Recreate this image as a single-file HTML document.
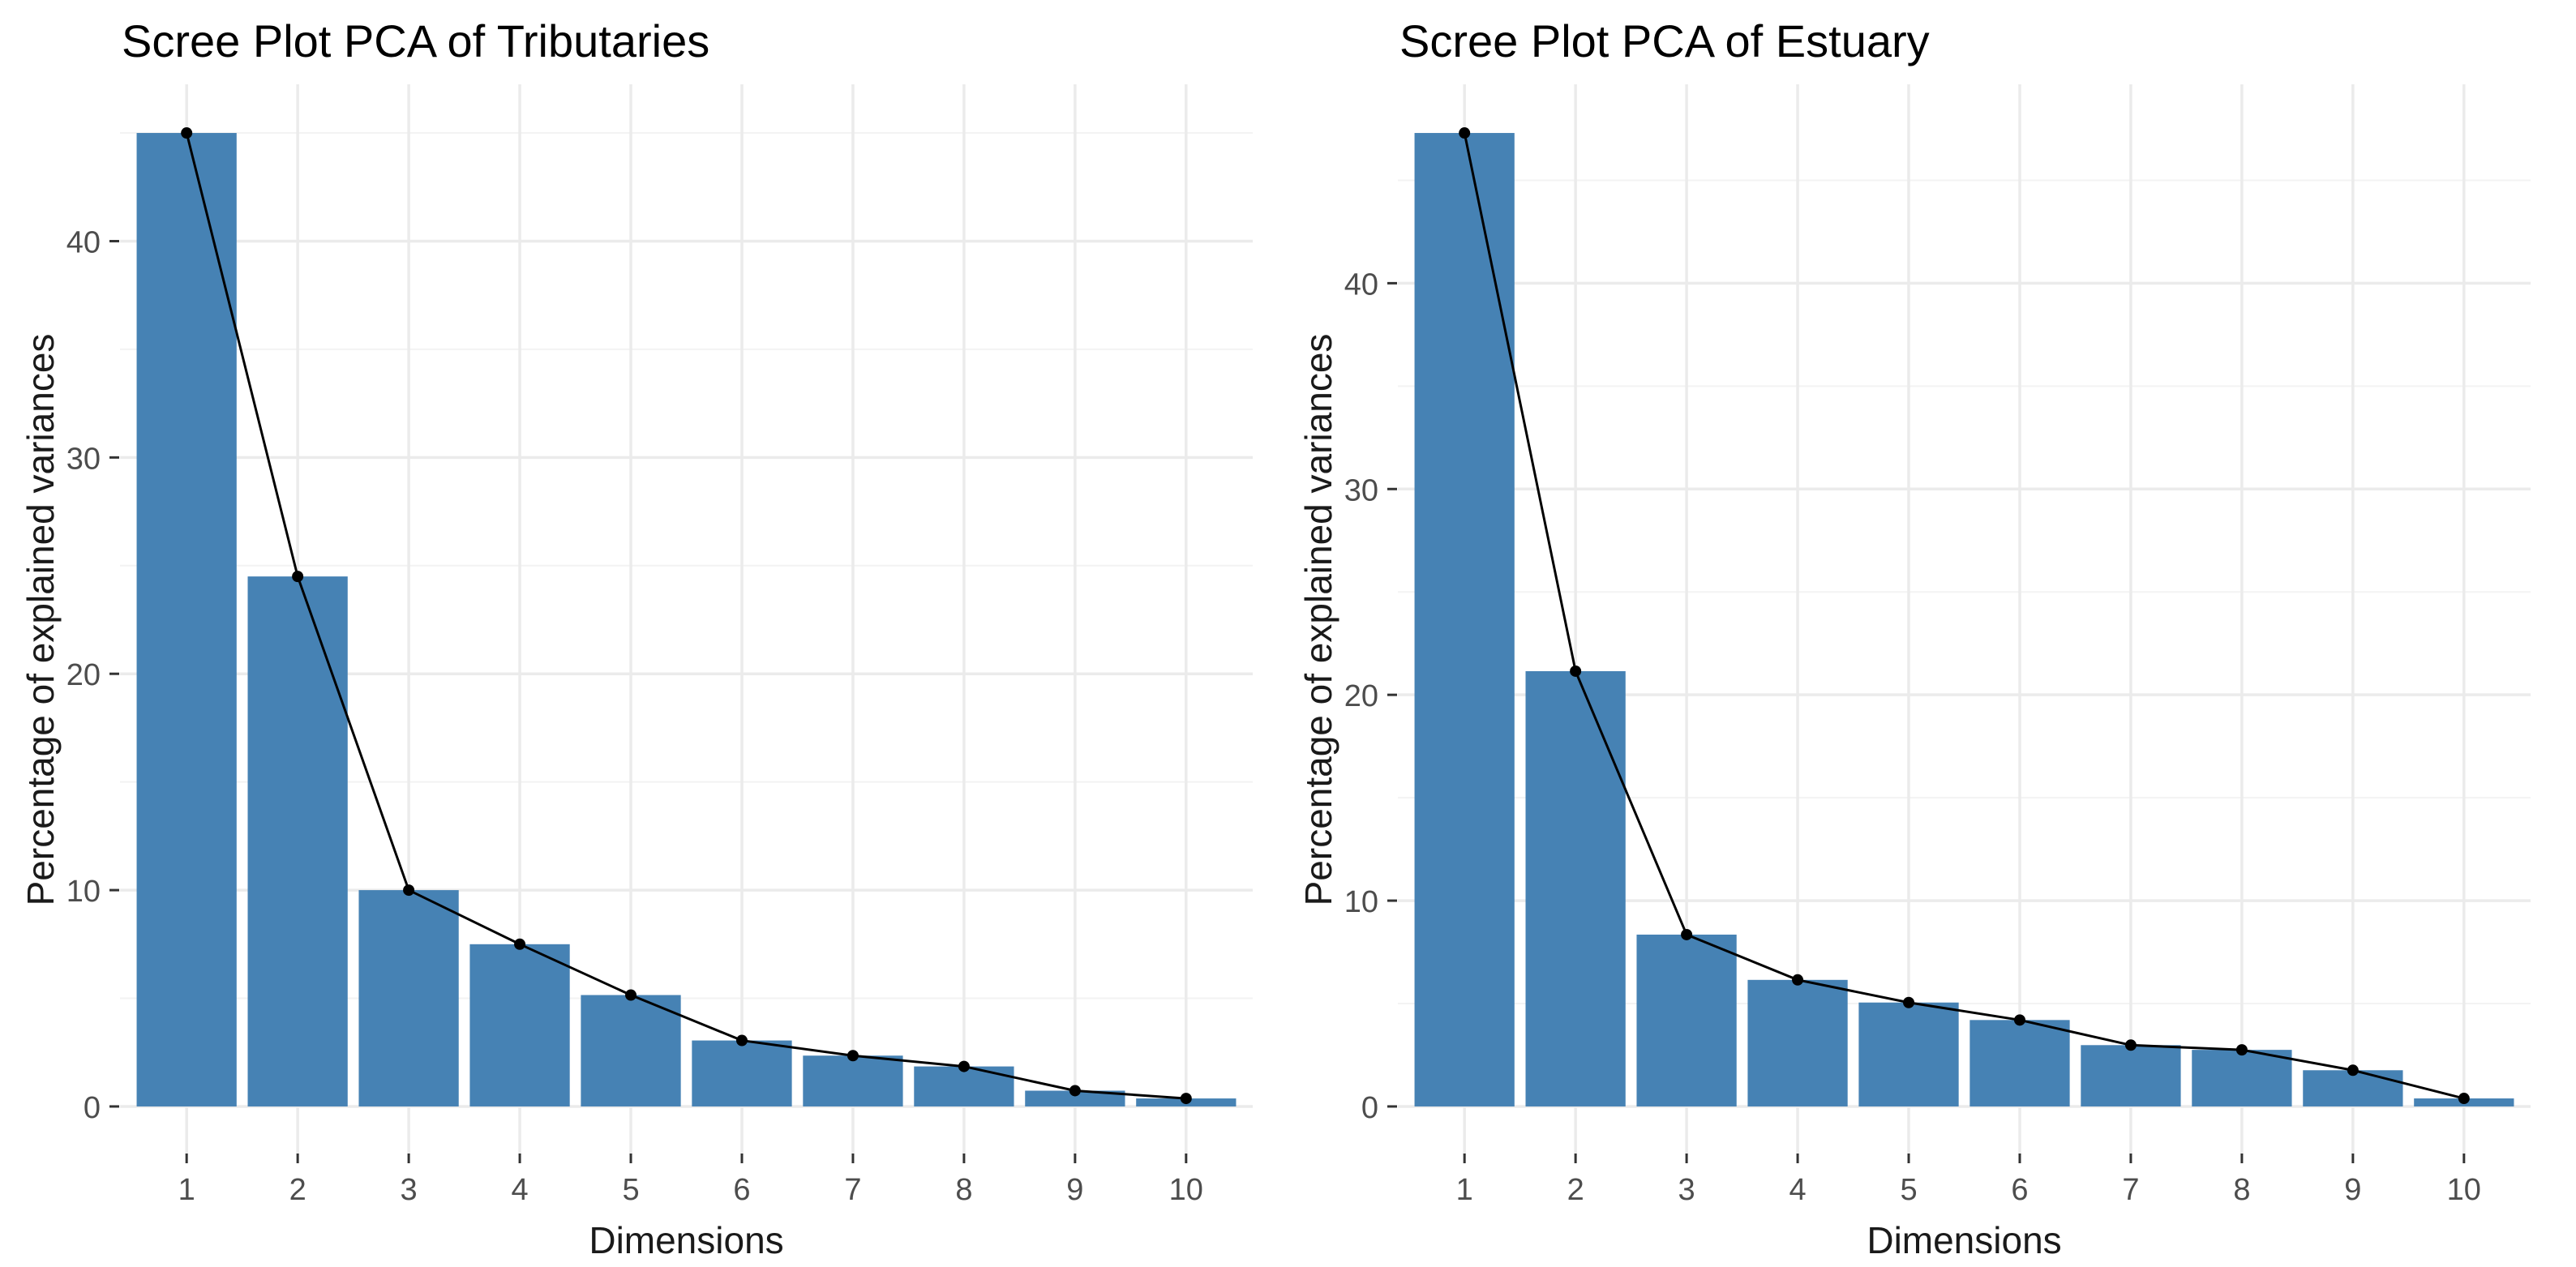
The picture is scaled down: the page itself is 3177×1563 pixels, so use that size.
<!DOCTYPE html>
<html><head><meta charset="utf-8"><style>
html,body{margin:0;padding:0;background:#fff;}
svg{display:block;font-family:"Liberation Sans",Arial,sans-serif;}
</style></head><body>
<svg id="chart" width="3177" height="1563" viewBox="0 0 3177 1563" xmlns="http://www.w3.org/2000/svg"></svg>
<script>
const dimensions = [1,2,3,4,5,6,7,8,9,10];
const tributaryValues = [45.0, 24.5, 10.0, 7.5, 5.15, 3.05, 2.35, 1.85, 0.73, 0.37];
const estuaryValues = [47.3, 21.15, 8.35, 6.15, 5.05, 4.2, 2.98, 2.75, 1.76, 0.39];
const yTickValues = [0, 10, 20, 30, 40];
const yMinorValues = [5, 15, 25, 35, 45];
const titles = ["Scree Plot PCA of Tributaries", "Scree Plot PCA of Estuary"];

const NS = "http://www.w3.org/2000/svg";
const svg = document.getElementById("chart");
function mk(tag, attrs, parent){
  const e = document.createElementNS(NS, tag);
  for (const k in attrs) e.setAttribute(k, attrs[k]);
  (parent||svg).appendChild(e);
  return e;
}

function drawPanel(offsetX, values, title, key){
  const g = mk("g", {});
  
  
  const left = offsetX + 148, right = offsetX + 1545, top = 104, bottom = 1425;
  const maxV = Math.max(...values);
  const yLo = -0.05*maxV, yHi = 1.05*maxV;
  const y = v => bottom - (v - yLo) / (yHi - yLo) * (bottom - top);
  const x = d => left + (d - 0.4) / 10.2 * (right - left);
  const unit = (right - left) / 10.2;

  yMinorValues.forEach(v => {
    if (v > yHi) return;
    const l = mk("line", {x1:left, x2:right, y1:y(v), y2:y(v), stroke:"#f3f3f3", "stroke-width":2}, g);
    
    
  });
  yTickValues.forEach(v => {
    const l = mk("line", {x1:left, x2:right, y1:y(v), y2:y(v), stroke:"#ebebeb", "stroke-width":3.5}, g);
    
    
  });
  dimensions.forEach(d => {
    const l = mk("line", {x1:x(d), x2:x(d), y1:top, y2:bottom, stroke:"#ebebeb", "stroke-width":3.5}, g);
    
    
  });

  dimensions.forEach((d,i) => {
    const w = 0.9*unit;
    const r = mk("rect", {x:x(d)-w/2, y:y(values[i]), width:w, height:y(0)-y(values[i]), fill:"#4682B4"}, g);
    
    
  });

  const pts = dimensions.map((d,i) => x(d) + "," + y(values[i])).join(" ");
  const pl = mk("polyline", {points:pts, fill:"none", stroke:"#000", "stroke-width":3}, g);
  
  
  dimensions.forEach((d,i) => {
    const c = mk("circle", {cx:x(d), cy:y(values[i]), r:7, fill:"#000"}, g);
    
    
  });

  yTickValues.forEach(v => {
    if (v > yHi) return;
    const t = mk("line", {x1:left-13, x2:left-1, y1:y(v), y2:y(v), stroke:"#333", "stroke-width":3}, g);
    
    
    const tx = mk("text", {x:left-24, y:y(v)+14, "text-anchor":"end", "font-size":38, fill:"#4d4d4d"}, g);
    tx.textContent = v;
    
    
  });
  dimensions.forEach(d => {
    const t = mk("line", {x1:x(d), x2:x(d), y1:bottom-2, y2:bottom+10, stroke:"#333", "stroke-width":3}, g);
    
    
    const tx = mk("text", {x:x(d), y:1480, "text-anchor":"middle", "font-size":38, fill:"#4d4d4d"}, g);
    tx.textContent = d;
    
    
  });

  const xt = mk("text", {x:(left+right)/2, y:1546, "text-anchor":"middle", "font-size":46, fill:"#1a1a1a"}, g);
  xt.textContent = "Dimensions";
  
  

  const yt = mk("text", {x:0, y:0, "text-anchor":"middle", "font-size":46, fill:"#1a1a1a",
    transform:"translate(" + (offsetX+66) + "," + ((top+bottom)/2) + ") rotate(-90)"}, g);
  yt.textContent = "Percentage of explained variances";
  
  

  const tt = mk("text", {x:offsetX+150, y:70, "font-size":56, fill:"#000"}, g);
  tt.textContent = title;
  
  
}

drawPanel(0, tributaryValues, titles[0], "tributaries");
drawPanel(1576, estuaryValues, titles[1], "estuary");
</script>
</body></html>
